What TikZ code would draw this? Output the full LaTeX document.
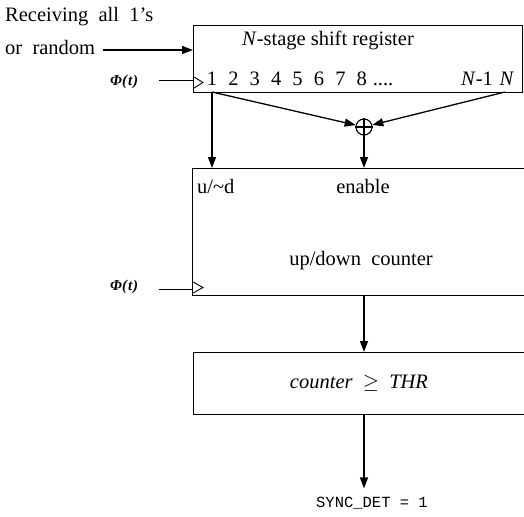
\documentclass[tikz,border=0pt]{standalone}
\usepackage{fontspec}
\setmainfont{Liberation Serif}
\setmonofont{Liberation Mono}
\usetikzlibrary{arrows.meta,calc}
\tikzset{
  blk/.style={draw, line width=1.3pt, rectangle, inner sep=0pt, anchor=north west},
  wire/.style={line width=1.3pt},
  arr/.style={line width=1.3pt, -{Triangle[length=11pt,width=8pt]}},
  txt/.style={inner sep=0pt, anchor=base, font=\fontsize{20.5}{24}\selectfont},
  clk/.style={line width=0.9pt},
  phi/.style={inner sep=0pt, anchor=base, font=\fontsize{15}{18}\selectfont\itshape\bfseries},
}
\begin{document}
\begin{tikzpicture}[x=1pt,y=-1pt]
\useasboundingbox (0,0) rectangle (524,516);
\clip (0,0) rectangle (524,516);
% blocks
\node[blk, minimum width=329pt, minimum height=67pt] (sr) at (193,25) {};
\node[blk, minimum width=360pt, minimum height=127pt] (ctr) at (192,168) {};
\node[blk, minimum width=360pt, minimum height=62pt] (cmp) at (193,352) {};
% texts
\node[txt, anchor=base west] (rx1) at (5,22) {Receiving\ \ all\ \ 1's};
\node[txt, anchor=base west] (rx2) at (5,55) {or\ \ random};
\node[txt] (srl) at (328,46) {\textit{N}-stage shift register};
\foreach \i in {1,...,8}{
  \node[txt] (d\i) at ({212+21.4*(\i-1)},86) {\i};
}
\node[txt] (dots) at (383,86) {....};
\node[txt] (dn1) at (477,86) {\textit{N}-1};
\node[txt] (dn) at (507,86) {\textit{N}};
\node[txt, anchor=base west] (ud) at (197,193) {u/\textasciitilde d};
\node[txt] (en) at (363,193) {enable};
\node[txt] (udc) at (361,265) {up/down\ \ counter};
\node[txt] (thr) at (359,388) {\textit{counter}\ \ $\geq$\ \ \textit{THR}};
\node[inner sep=0pt, anchor=base, font=\fontsize{15.5}{18}\selectfont\ttfamily] (sync) at (372,507) {SYNC\_DET = 1};
\node[phi, anchor=base west] (phi1) at (110,86) {Φ(\kern1pt t\kern1pt)};
\node[phi, anchor=base west] (phi2) at (110,290) {Φ(\kern1pt t\kern1pt)};
% xor
\node[circle, draw, line width=1.1pt, minimum size=16pt, inner sep=0pt] (xor) at (364,127) {};
\draw[line width=1.1pt] (xor.north) -- (xor.south) (xor.west) -- (xor.east);
% input arrow
\coordinate (in) at (103,50);
\draw[arr] (in) -- (in -| sr.west);
% clocks
\coordinate (c1) at (159,80);
\coordinate (c2) at (159,289);
\draw[clk] (c1) -- (c1 -| sr.west);
\draw[clk] (c2) -- (c2 -| ctr.west);
\draw[clk] (194,77) -- (203,82.5) -- (194,88);
\draw[clk] (193,282) -- (203,287.5) -- (193,293);
% taps
\coordinate (t1) at (212,92);
\coordinate (tN) at (505,92);
\draw[arr] (t1) -- (t1 |- ctr.north);
\draw[arr] (t1) -- (xor);
\draw[arr] (tN) -- (xor);
\draw[arr] (xor) -- (xor |- ctr.north);
\draw[arr] (xor |- ctr.south) -- (xor |- cmp.north);
\draw[arr] (xor |- cmp.south) -- ($(xor |- sync.north)+(0,-8)$);
\end{tikzpicture}
\end{document}
